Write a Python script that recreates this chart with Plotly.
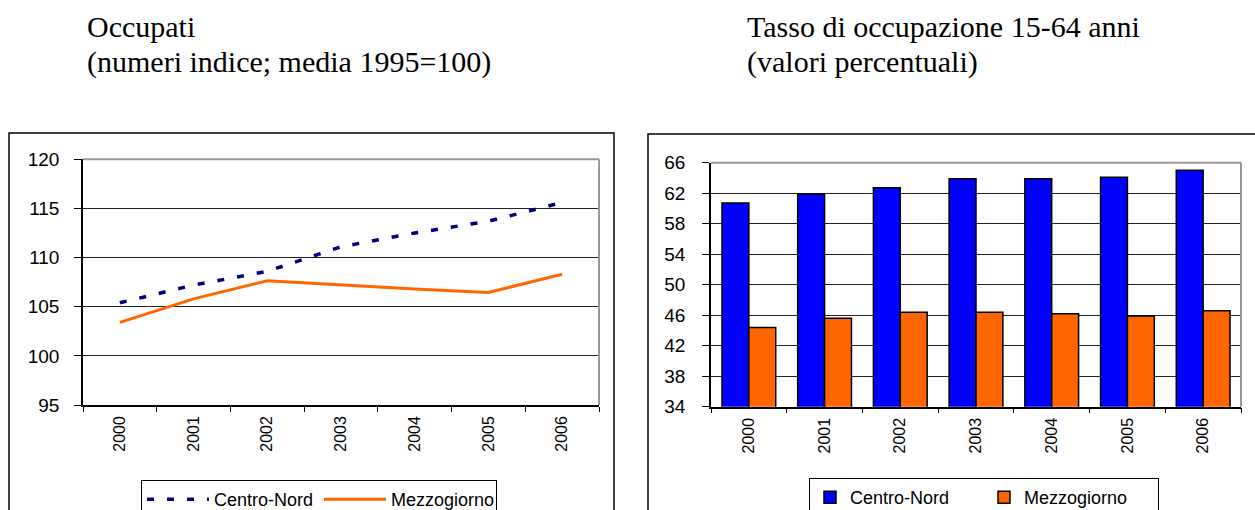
import plotly.graph_objects as go

W, H = 1255, 510

years = ["2000", "2001", "2002", "2003", "2004", "2005", "2006"]
occ_cn = [105.4, 107.2, 108.6, 111.1, 112.5, 113.7, 115.6]
occ_mz = [103.4, 105.8, 107.65, 107.2, 106.8, 106.45, 108.3]
tasso_cn = [60.7, 61.9, 62.7, 63.9, 63.9, 64.1, 65.0]
tasso_mz = [44.4, 45.6, 46.4, 46.4, 46.2, 45.9, 46.6]

left_title = ["Occupati", "(numeri indice; media 1995=100)"]
right_title = ["Tasso di occupazione 15-64 anni", "(valori percentuali)"]


def px(x):
    return x / W


def py(y):
    return 1 - y / H


SANS = "Liberation Sans, Arial, sans-serif"
SERIF = "Liberation Serif, Times New Roman, serif"

fig = go.Figure()

fig.add_trace(go.Scatter(x=years, y=occ_cn, name="Centro-Nord", mode="lines",
                         line=dict(color="#000080", width=3.5, dash="7px,13px"),
                         xaxis="x", yaxis="y", legend="legend"))
fig.add_trace(go.Scatter(x=years, y=occ_mz, name="Mezzogiorno", mode="lines",
                         line=dict(color="#FF6600", width=3),
                         xaxis="x", yaxis="y", legend="legend"))

fig.add_trace(go.Bar(x=years, y=tasso_cn, name="Centro-Nord",
                     marker=dict(color="#0000FF", line=dict(color="black", width=1.5)),
                     xaxis="x2", yaxis="y2", legend="legend2"))
fig.add_trace(go.Bar(x=years, y=tasso_mz, name="Mezzogiorno",
                     marker=dict(color="#FF6600", line=dict(color="black", width=1.5)),
                     xaxis="x2", yaxis="y2", legend="legend2"))

xcommon = dict(type="category", tickson="boundaries", ticks="outside", ticklen=5,
               tickcolor="black", tickwidth=1, showline=True, linecolor="black",
               linewidth=1.5, tickangle=-90, showgrid=False,
               tickfont=dict(family=SANS, size=16, color="black"),
               ticklabelstandoff=3, range=[-0.5, 6.5], fixedrange=True,
               automargin=False)
ycommon = dict(ticks="outside", ticklen=7, tickcolor="black", tickwidth=1,
               showline=True, linecolor="black", linewidth=1.5,
               showgrid=True, gridcolor="#222222", gridwidth=1,
               zeroline=False, fixedrange=True, automargin=False)

fig.update_layout(
    width=W, height=H,
    margin=dict(l=0, r=0, t=0, b=0, autoexpand=False),
    paper_bgcolor="white", plot_bgcolor="white",
    barmode="group", bargap=0.29, bargroupgap=0,
    xaxis=dict(domain=[px(83), px(599)], anchor="y", **xcommon),
    yaxis=dict(domain=[py(405), py(159.3)], anchor="x", range=[95, 120], dtick=5,
               tick0=95, ticklabelstandoff=11,
               tickfont=dict(family=SANS, size=19, color="black"), **ycommon),
    xaxis2=dict(domain=[px(711), px(1241)], anchor="y2", **xcommon),
    yaxis2=dict(domain=[py(406.7), py(162.7)], anchor="x2", range=[34, 66], dtick=4,
                tick0=34, ticklabelstandoff=13,
                tickfont=dict(family=SANS, size=19, color="black"), **ycommon),
    legend=dict(orientation="h", x=px(141), y=py(480), xanchor="left", yanchor="top",
                bordercolor="black", borderwidth=1, bgcolor="white",
                font=dict(family=SANS, size=18, color="black"),
                itemwidth=62, entrywidth=100, entrywidthmode="pixels"),
    legend2=dict(orientation="h", x=px(809), y=py(478), xanchor="left", yanchor="top",
                 bordercolor="black", borderwidth=1, bgcolor="white",
                 font=dict(family=SANS, size=18, color="black"),
                 entrywidth=129, entrywidthmode="pixels"),
    showlegend=True,
)

# outer chart boxes
fig.add_shape(type="rect", xref="paper", yref="paper", x0=px(9), x1=px(614),
              y0=-0.1, y1=py(133), line=dict(color="black", width=1.5), layer="below")
fig.add_shape(type="rect", xref="paper", yref="paper", x0=px(648), x1=1.1,
              y0=-0.1, y1=py(134), line=dict(color="black", width=1.5), layer="below")

# grey top/right plot-area borders
for (xl, xr, yt, yb) in [(83, 599, 159.3, 405), (711, 1241, 162.7, 406.7)]:
    fig.add_shape(type="line", xref="paper", yref="paper", x0=px(xl), x1=px(xr),
                  y0=py(yt), y1=py(yt), line=dict(color="#999999", width=2))
    fig.add_shape(type="line", xref="paper", yref="paper", x0=px(xr), x1=px(xr),
                  y0=py(yt), y1=py(yb), line=dict(color="#999999", width=2))

# titles
for (xpos, lines) in [(85, left_title), (745, right_title)]:
    for i, t in enumerate(lines):
        fig.add_annotation(text=t, xref="paper", yref="paper", x=px(xpos),
                           y=py(26 + 36 * i), xanchor="left", yanchor="middle",
                           showarrow=False,
                           font=dict(family=SERIF, size=30, color="black"))

fig.write_html(
    "out.html",
    config={"displayModeBar": False},
    post_script="document.body.style.margin='0';document.body.style.overflow='hidden';",
)
